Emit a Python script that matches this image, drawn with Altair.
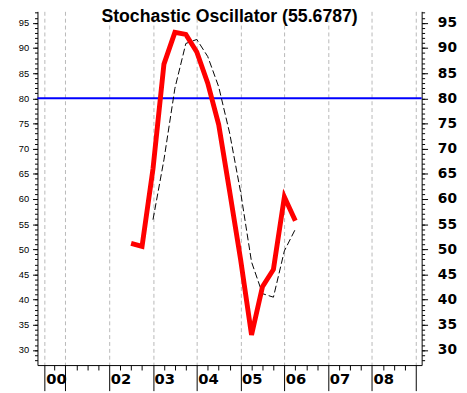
import altair as alt
import pandas as pd

# %K (fast stochastic) - red line
k_t = [2.5, 2.75, 3.0, 3.25, 3.5, 3.75, 4.0, 4.25, 4.5, 4.75, 5.0, 5.25, 5.5, 5.75, 6.0, 6.25]
k_val = [51.2, 50.6, 66.0, 86.8, 93.1, 92.7, 89.2, 83.0, 74.8, 61.5, 48.0, 33.0, 42.6, 46.0, 60.4, 55.68]
# %D (signal) - dashed black line
d_t = [3.0, 3.25, 3.5, 3.75, 4.0, 4.25, 4.5, 4.75, 5.0, 5.25, 5.5, 5.75, 6.0, 6.25]
d_val = [55.9, 67.8, 82.0, 90.9, 91.7, 88.3, 82.3, 73.1, 61.4, 47.5, 41.2, 40.5, 49.7, 54.0]
# reference level
level = [80]

# axes
y_major = [30, 35, 40, 45, 50, 55, 60, 65, 70, 75, 80, 85, 90, 95]
y_minor = list(range(28, 98))
x_grid = [0.53, 1, 2, 3, 4, 5, 6, 7, 8, 9]
x_minor = [0.75, 1.25, 1.5, 1.75, 2.25, 2.5, 2.75, 3.25, 3.5, 3.75, 4.25, 4.5, 4.75,
           5.25, 5.5, 5.75, 6.25, 6.5, 6.75, 7.25, 7.5, 7.75, 8.25, 8.5, 8.75]
x_label_pos = [0.53, 2, 3, 4, 5, 6, 7, 8]
x_label_txt = ["00", "02", "03", "04", "05", "06", "07", "08"]

x_dom = [0.362, 9.135]
y_dom = [27.01, 97.28]

title_text = "Stochastic Oscillator (55.6787)"

dk = pd.DataFrame({"t": k_t, "v": k_val})
dd = pd.DataFrame({"t": d_t, "v": d_val})
dl = pd.DataFrame({"v": level})

label_expr = "''"
for p, s in reversed(list(zip(x_label_pos, x_label_txt))):
    label_expr = f"abs(datum.value - {p}) < 0.01 ? '{s}' : ({label_expr})"

xs = alt.Scale(domain=x_dom, nice=False, zero=False)
ys = alt.Scale(domain=y_dom, nice=False, zero=False)

ax_x_major = alt.Axis(orient="bottom", values=x_grid, grid=True, gridColor="#b8b8b8",
                      gridDash=[4, 3], gridWidth=1, ticks=True, tickSize=26,
                      tickColor="black", labels=False, domain=False, title=None)
ax_x_minor = alt.Axis(orient="bottom", values=x_minor, grid=False, ticks=True, tickSize=5,
                      tickColor="black", labels=False, domain=True, domainColor="black",
                      title=None)
ax_x_lab = alt.Axis(orient="bottom", values=x_label_pos, grid=False, ticks=False, domain=False,
                    labelExpr=label_expr, labelAlign="left", labelBaseline="alphabetic",
                    labelPadding=19, labelOffset=1, labelFont="DejaVu Sans",
                    labelFontWeight="bold", labelFontSize=15, labelColor="black",
                    labelOverlap=False, labelFlush=False, title=None)

ax_y_left = alt.Axis(orient="left", values=y_major, grid=False, tickSize=5, tickColor="black",
                     domain=True, domainColor="black", labelFont="Liberation Sans",
                     labelFontSize=9.5, labelColor="black", labelPadding=4,
                     labelOverlap=False, labelFlush=False, title=None)
ax_y_left_minor = alt.Axis(orient="left", values=y_minor, grid=False, tickSize=3,
                           tickColor="black", domain=False, labels=False, title=None)
ax_y_right = alt.Axis(orient="right", values=y_major, grid=False, tickSize=6, tickColor="black",
                      domain=True, domainColor="black", labelFont="DejaVu Sans",
                      labelFontWeight="bold", labelFontSize=14, labelColor="black",
                      labelPadding=10, labelOverlap=False, labelFlush=False, title=None)
ax_y_right_minor = alt.Axis(orient="right", values=y_minor, grid=False, tickSize=3,
                            tickColor="black", domain=False, labels=False, title=None)

red = alt.Chart(dk).mark_line(color="#ff0000", strokeWidth=5, clip=True).encode(
    x=alt.X("t:Q", scale=xs, axis=ax_x_major),
    y=alt.Y("v:Q", scale=ys, axis=ax_y_left),
)
dash = alt.Chart(dd).mark_line(color="black", strokeWidth=1, strokeDash=[7, 3], clip=True).encode(
    x=alt.X("t:Q", scale=xs, axis=ax_x_minor),
    y=alt.Y("v:Q", scale=ys, axis=ax_y_left_minor),
)
blue = alt.Chart(dl).mark_rule(color="#0000ff", strokeWidth=2).encode(
    y=alt.Y("v:Q", scale=ys, axis=ax_y_right),
)
ghost = alt.Chart(dk).mark_point(opacity=0).encode(
    x=alt.X("t:Q", scale=xs, axis=ax_x_lab),
    y=alt.Y("v:Q", scale=ys, axis=ax_y_right_minor),
)

chart = alt.layer(blue, dash, red, ghost).resolve_axis(
    x="independent", y="independent"
).properties(
    width=391,
    height=360,
    background="white",
    autosize=alt.AutoSizeParams(type="none"),
    padding={"left": 30, "top": 0, "right": 38, "bottom": 25},
    title=alt.TitleParams(text=title_text, font="Liberation Sans", fontSize=18,
                          fontWeight="bold", color="black", anchor="middle",
                          frame="group", baseline="alphabetic", offset=-29),
).configure_view(stroke=None)

chart.save("out.html", embed_options={"renderer": "svg", "actions": False})
